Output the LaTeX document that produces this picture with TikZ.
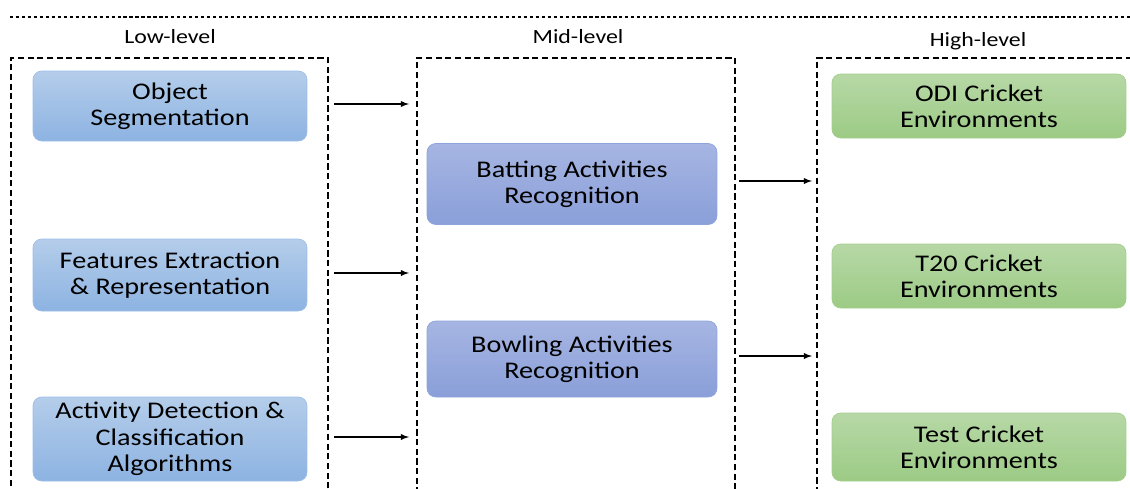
\documentclass[tikz,border=0pt]{standalone}
\usepackage{fontspec}
\setmainfont{Carlito}[FakeStretch=1.18]
\usepackage{tikz}
\usetikzlibrary{fit,arrows,positioning,calc}
\definecolor{lowtop}{HTML}{B4CDEA}
\definecolor{lowbot}{HTML}{8DB3E2}
\definecolor{lowline}{HTML}{9DBDE8}
\definecolor{midtop}{HTML}{A6B5E2}
\definecolor{midbot}{HTML}{8A9FD9}
\definecolor{midline}{HTML}{8FA3DC}
\definecolor{hightop}{HTML}{B7D8A6}
\definecolor{highbot}{HTML}{9CCB85}
\definecolor{highline}{HTML}{A3CF8C}
\tikzstyle{stage}=[rounded corners=5pt, align=center, inner sep=2pt, font=\fontsize{13.6}{15}\selectfont]
\tikzstyle{lowstage}=[stage, draw=lowline, top color=lowtop, bottom color=lowbot, minimum width=5.48cm]
\tikzstyle{midstage}=[stage, draw=midline, top color=midtop, bottom color=midbot, minimum width=5.8cm]
\tikzstyle{highstage}=[stage, draw=highline, top color=hightop, bottom color=highbot, minimum width=5.88cm]
\tikzstyle{levelbox}=[draw, line width=1.2pt, dash pattern=on 3.5pt off 2pt, inner sep=0pt]
\tikzstyle{levelname}=[font=\fontsize{11.5}{12}\selectfont]
\tikzstyle{flow}=[-latex, line width=0.6pt]

\begin{document}
\begin{tikzpicture}[x=0.02cm, y=-0.02cm]
	\useasboundingbox (0,0) rectangle (1130,488);
	\clip (0,0) rectangle (1130,488);

	\coordinate (start) at (10,17);
	\coordinate (stop) at (1130,17);
	\draw[line width=1.5pt, dash pattern=on 1.8pt off 1.6pt] (start) -- (stop);

	\node[levelname] (lowname) at (170,37) {Low-level};
	\node[levelname] (midname) at (578,37) {Mid-level};
	\node[levelname] (highname) at (978,41) {High-level};

	\node[levelbox, fit={(11,58) (328,500)}] (low) {};
	\node[levelbox, fit={(417,58) (735,500)}] (mid) {};
	\node[levelbox, fit={(817,58) (1140,500)}] (high) {};

	\node[lowstage, minimum height=1.4cm] (seg) at (170,106) {Object\\Segmentation};
	\node[lowstage, minimum height=1.44cm] (feat) at (170,275) {Features Extraction\\\& Representation};
	\node[lowstage, minimum height=1.68cm] (act) at (170,439) {Activity Detection \&\\Classification\\Algorithms};

	\node[midstage, minimum height=1.62cm] (bat) at (572,184) {Batting Activities\\Recognition};
	\node[midstage, minimum height=1.52cm] (bowl) at (572,359) {Bowling Activities\\Recognition};

	\node[highstage, minimum height=1.28cm] (odi) at (979,106) {ODI Cricket\\Environments};
	\node[highstage, minimum height=1.28cm] (t20) at (979,276) {T20 Cricket\\Environments};
	\node[highstage, minimum height=1.36cm] (test) at (979,447) {Test Cricket\\Environments};

	\foreach \s in {seg,feat,act}
		{
			\draw[flow] ($(low.east |- \s)+(5,-2)$) -- ($(mid.west |- \s)+(-7,-2)$);
		}
	\foreach \s in {bat,bowl}
		{
			\draw[flow] ($(mid.east |- \s)+(3,-3)$) -- ($(high.west |- \s)+(-4,-3)$);
		}

\end{tikzpicture}
\end{document}
